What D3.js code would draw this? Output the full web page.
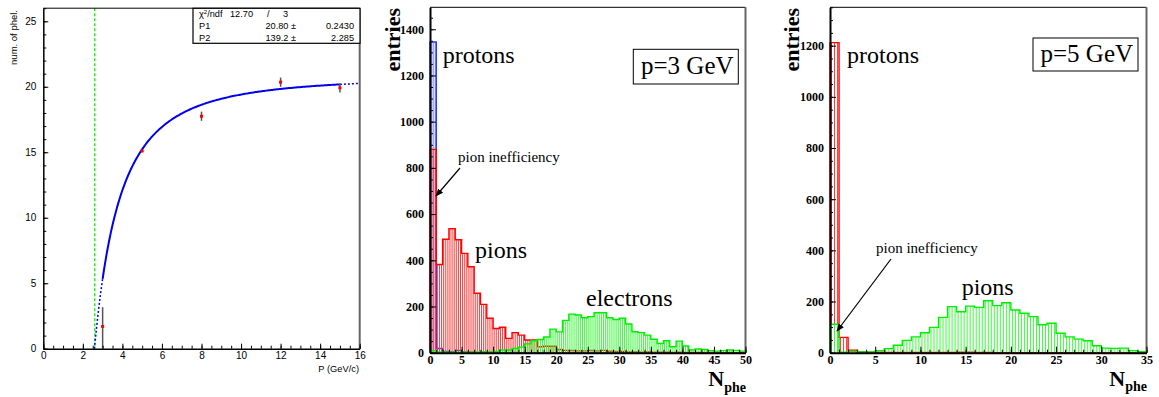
<!DOCTYPE html>
<html>
<head>
<meta charset="utf-8">
<script src="https://cdn.jsdelivr.net/npm/d3@7"></script>
<style>
  html, body { margin: 0; padding: 0; background: #fff; }
  svg { display: block; }
  .sans { font-family: "Liberation Sans", Arial, sans-serif; }
</style>
</head>
<body>
<svg id="chart" width="1159" height="397"></svg>
<script>
// ---------- Left panel: mean photoelectrons vs momentum ----------
const momentum = [3, 5, 8, 12, 15];
const meanPhel = [1.7, 15.1, 17.75, 20.35, 19.92];
const errUp    = [1.47, 0.1, 0.35, 0.35, 0.35];
const errDown  = [1.7, 0.1, 0.35, 0.35, 0.35];
const fitP1 = 20.80, fitP1Err = 0.2430;
const fitP2 = 139.2, fitP2Err = 2.285;
const chi2 = 12.70, ndf = 3;
const thresholdP = 2.6;
const leftXTicks = [0, 2, 4, 6, 8, 10, 12, 14, 16];
const leftYTicks = [0, 5, 10, 15, 20, 25];

// ---------- Middle panel: p = 3 GeV, bins of 1 photoelectron ----------
const protons3 = [1345, 18, 5, 4, 10, 3, 2, 1, 2, 1, 1, 1, 0, 1, 0, 0, 0, 0, 0, 0,
                  0, 0, 0, 0, 0, 0, 0, 0, 0, 0, 0, 0, 0, 0, 0, 0, 0, 0, 0, 0,
                  0, 0, 0, 0, 0, 0, 0, 0, 0, 0];
const pions3 = [880, 382, 491, 537, 489, 430, 372, 257, 209, 149, 105, 110, 62, 87, 76, 55,
                55, 26, 28, 28, 14, 10, 10, 8, 8, 10, 8, 10, 6, 5, 5, 3, 3, 2, 3, 2,
                2, 2, 1, 2, 1, 1, 1, 1, 1, 1, 0, 1, 0, 0];
const electrons3 = [8, 3, 2, 2, 2, 2, 2, 2, 3, 3, 5, 12, 12, 18, 24, 38, 52, 57, 68, 102,
                    90, 140, 167, 163, 151, 156, 173, 173, 151, 144, 149, 124, 91, 87, 76, 58,
                    40, 52, 26, 50, 29, 12, 16, 14, 9, 7, 9, 12, 10, 7];
const midXTicks = [0, 5, 10, 15, 20, 25, 30, 35, 40, 45, 50];
const midYTicks = [0, 200, 400, 600, 800, 1000, 1200, 1400];

// ---------- Right panel: p = 5 GeV ----------
const protons5 = [1212, 60, 10, 3, 2, 2, 1, 1, 1, 1, 1, 1, 1, 1, 2, 2, 1, 1, 0, 0,
                  0, 0, 0, 0, 0, 0, 0, 0, 0, 0, 0, 0, 0, 0, 0];
const pions5 = [111, 2, 5, 3, 3, 8, 16, 29, 48, 62, 78, 99, 138, 180, 160, 182, 177, 203, 184, 195,
                167, 154, 141, 109, 115, 76, 62, 53, 47, 27, 18, 17, 18, 8, 4];
const rightXTicks = [0, 5, 10, 15, 20, 25, 30, 35];
const rightYTicks = [0, 200, 400, 600, 800, 1000, 1200];

const SERIF = '"Liberation Serif", "Times New Roman", serif';
const SANS = '"Liberation Sans", Arial, sans-serif';

const svg = d3.select("#chart");
const defs = svg.append("defs");

defs.append("marker")
  .attr("id", "arrowhead")
  .attr("viewBox", "0 0 10 10")
  .attr("refX", 9).attr("refY", 5)
  .attr("markerWidth", 8).attr("markerHeight", 8)
  .attr("markerUnits", "userSpaceOnUse")
  .attr("orient", "auto")
  .append("path").attr("d", "M0,1 L10,5 L0,9 Z").attr("fill", "#000");

// histogram with vertical hatching inside each bin and a step outline
function drawHist(g, x, y, values, color, hatchColor) {
  const bins = g.append("g");
  values.forEach((v, i) => {
    if (v <= 0) return;
    const xa = x(i), w = x(i + 1) - x(i);
    for (let k = 0; k < 3; k++) {
      const xx = xa + w * (k + 0.5) / 3;
      bins.append("line")
        .attr("x1", xx).attr("x2", xx)
        .attr("y1", y(v)).attr("y2", y(0))
        .attr("stroke", hatchColor).attr("stroke-width", 1);
    }
  });
  const pts = [[x(0), y(0)]];
  values.forEach((v, i) => { pts.push([x(i), y(v)]); pts.push([x(i + 1), y(v)]); });
  pts.push([x(values.length), y(0)]);
  g.append("path")
    .attr("d", d3.line()(pts))
    .attr("fill", "none")
    .attr("stroke", color)
    .attr("stroke-width", 1.4);
}

function axes(g, x, y, cfg) {
  const [x0, x1] = x.range();
  const [yb, yt] = y.range();
  // frame: top black line, right grey line
  g.append("line").attr("x1", x0).attr("x2", x1).attr("y1", yt).attr("y2", yt)
    .attr("stroke", "#000").attr("stroke-width", 1);
  g.append("line").attr("x1", x1).attr("x2", x1).attr("y1", yt).attr("y2", yb)
    .attr("stroke", "#666").attr("stroke-width", 2);

  const xMinor = g.append("g").attr("transform", `translate(0,${yb})`)
    .call(d3.axisBottom(x).tickValues(cfg.xMinor).tickSize(-cfg.minorLen).tickFormat(""));
  const yMinor = g.append("g").attr("transform", `translate(${x0},0)`)
    .call(d3.axisLeft(y).tickValues(cfg.yMinor).tickSize(-cfg.minorLen).tickFormat(""));
  [xMinor, yMinor].forEach(a => a.select(".domain").remove());

  const xa = g.append("g").attr("transform", `translate(0,${yb})`)
    .call(d3.axisBottom(x).tickValues(cfg.xMajor).tickSize(-cfg.majorLen)
      .tickPadding(cfg.xPad).tickSizeOuter(0).tickFormat(d => String(d)));
  const ya = g.append("g").attr("transform", `translate(${x0},0)`)
    .call(d3.axisLeft(y).tickValues(cfg.yMajor).tickSize(-cfg.majorLen)
      .tickPadding(cfg.yPad).tickSizeOuter(0).tickFormat(d => String(d)));
  [xa, ya, xMinor, yMinor].forEach(a => {
    a.selectAll("line").attr("stroke", "#000").attr("stroke-width", 1);
  });
  [xa, ya].forEach(a => {
    a.attr("font-family", null).attr("font-size", null);
    a.select(".domain").attr("stroke", "#000").attr("stroke-width", cfg.axisWidth);
    a.selectAll("text")
      .attr("fill", "#000")
      .style("font-family", cfg.font)
      .style("font-size", cfg.fontSize + "px")
      .style("font-weight", cfg.fontWeight);
  });
}

// ================= Left panel =================
{
  const g = svg.append("g");
  const x = d3.scaleLinear([0, 16], [43.3, 359.7]);
  const y = d3.scaleLinear([0, 26], [348.7, 8.2]);

  // Cherenkov threshold
  g.append("line")
    .attr("x1", x(thresholdP)).attr("x2", x(thresholdP))
    .attr("y1", y(26)).attr("y2", y(0))
    .attr("stroke", "#22ee22").attr("stroke-width", 1.5).attr("stroke-dasharray", "3,2");

  // fit function N = P1 - P2 / p^2
  const fit = p => fitP1 - fitP2 / (p * p);
  const p0 = Math.sqrt(fitP2 / fitP1);
  const line = d3.line().x(d => x(d)).y(d => y(fit(d)));
  const seg = (a, b, n) => d3.range(n + 1).map(i => a + (b - a) * i / n);
  g.append("path").attr("d", line(seg(p0, momentum[0], 20)))
    .attr("fill", "none").attr("stroke", "#0000ee").attr("stroke-width", 1.5).attr("stroke-dasharray", "2,2");
  g.append("path").attr("d", line(seg(momentum[0], momentum[momentum.length - 1], 200)))
    .attr("fill", "none").attr("stroke", "#0000ee").attr("stroke-width", 2);
  g.append("path").attr("d", line(seg(momentum[momentum.length - 1], 16, 10)))
    .attr("fill", "none").attr("stroke", "#0000ee").attr("stroke-width", 1.5).attr("stroke-dasharray", "2,2");

  // measured points with error bars
  momentum.forEach((p, i) => {
    const lo = Math.max(0, meanPhel[i] - errDown[i]);
    g.append("line")
      .attr("x1", x(p)).attr("x2", x(p))
      .attr("y1", y(lo)).attr("y2", y(meanPhel[i] + errUp[i]))
      .attr("stroke", "#555").attr("stroke-width", 1.5);
    g.append("rect")
      .attr("x", x(p) - 1.5).attr("y", y(meanPhel[i]) - 1.5)
      .attr("width", 3).attr("height", 3).attr("fill", "#ff0000");
  });

  axes(g, x, y, {
    xMajor: leftXTicks, xMinor: d3.range(0, 16.01, 0.5),
    yMajor: leftYTicks, yMinor: d3.range(0, 26.01, 1),
    majorLen: 5, minorLen: 3, xPad: 3, yPad: 7, axisWidth: 1.5,
    font: SANS, fontSize: 10, fontWeight: "normal"
  });

  g.append("text").attr("class", "sans")
    .attr("x", 359).attr("y", 371.5).attr("text-anchor", "end")
    .attr("font-size", 9.3).text("P (GeV/c)");
  g.append("text").attr("class", "sans")
    .attr("transform", "translate(16.5,10) rotate(-90)")
    .attr("text-anchor", "end").attr("font-size", 9.5).text("num. of phel.");

  // fit statistics box
  const bx = 193, by = 8.3, bw = 167, bh = 35;
  g.append("rect").attr("x", bx).attr("y", by).attr("width", bw).attr("height", bh)
    .attr("fill", "#fff").attr("stroke", "#000").attr("stroke-width", 1.2);
  const st = g.append("g").attr("class", "sans").attr("font-size", 9.2).attr("fill", "#000");
  const r1 = st.append("text").attr("x", 199).attr("y", 17.3);
  r1.append("tspan").text("χ");
  r1.append("tspan").attr("font-size", 6).attr("dy", -3).text("2");
  r1.append("tspan").attr("dy", 3).text("/ndf");
  st.append("text").attr("x", 230).attr("y", 17.3).text(chi2.toFixed(2));
  st.append("text").attr("x", 267).attr("y", 17.3).text("/");
  st.append("text").attr("x", 283).attr("y", 17.3).text(ndf);
  st.append("text").attr("x", 199).attr("y", 29).text("P1");
  st.append("text").attr("x", 296).attr("y", 29).attr("text-anchor", "end").text(fitP1.toFixed(2) + " ±");
  st.append("text").attr("x", 354).attr("y", 29).attr("text-anchor", "end").text(fitP1Err.toFixed(4));
  st.append("text").attr("x", 199).attr("y", 41.3).text("P2");
  st.append("text").attr("x", 296).attr("y", 41.3).attr("text-anchor", "end").text(fitP2.toFixed(1) + " ±");
  st.append("text").attr("x", 354).attr("y", 41.3).attr("text-anchor", "end").text(fitP2Err.toFixed(3));
}

function nphe(g, xEnd, yBase) {
  const t = g.append("text").style("font-family", SERIF).style("font-weight", "bold")
    .attr("x", xEnd).attr("y", yBase).attr("text-anchor", "end").style("font-size", "22px");
  t.append("tspan").text("N");
  t.append("tspan").style("font-size", "14px").attr("dy", 5.5).text("phe");
}

function entries(g, xBase) {
  g.append("text").style("font-family", SERIF).style("font-weight", "bold")
    .attr("transform", `translate(${xBase},8) rotate(-90)`)
    .attr("text-anchor", "end").style("font-size", "22px").text("entries");
}

function arrow(g, x1, y1, x2, y2) {
  g.append("line").attr("x1", x1).attr("y1", y1).attr("x2", x2).attr("y2", y2)
    .attr("stroke", "#000").attr("stroke-width", 1.2).attr("marker-end", "url(#arrowhead)");
}

function label(g, x, y, size, str) {
  g.append("text").style("font-family", SERIF).attr("x", x).attr("y", y)
    .style("font-size", size + "px").attr("fill", "#000").text(str);
}

// ================= Middle panel =================
{
  const g = svg.append("g");
  const x = d3.scaleLinear([0, 50], [430, 745.5]);
  const y = d3.scaleLinear([0, 1495], [352.7, 7.3]);

  drawHist(g, x, y, protons3, "#2a3cff", "#6a78ff");
  drawHist(g, x, y, pions3, "#ff0000", "#ff3a3a");
  drawHist(g, x, y, electrons3, "#00ee00", "#3aff3a");

  axes(g, x, y, {
    xMajor: midXTicks, xMinor: d3.range(0, 50.01, 1),
    yMajor: midYTicks, yMinor: d3.range(0, 1451, 50),
    majorLen: 6, minorLen: 3, xPad: 2.5, yPad: 6, axisWidth: 2,
    font: SERIF, fontSize: 12, fontWeight: "bold"
  });

  entries(g, 399.5);
  nphe(g, 746, 386);

  label(g, 442.7, 63.3, 24, "protons");
  label(g, 475, 258, 24, "pions");
  label(g, 586, 306, 24, "electrons");
  label(g, 458, 161.7, 15, "pion inefficiency");
  arrow(g, 460, 168, 436, 196);

  g.append("rect").attr("x", 633.3).attr("y", 49.3).attr("width", 105).attr("height", 34.7)
    .attr("fill", "#fff").attr("stroke", "#000").attr("stroke-width", 1);
  label(g, 641, 74, 25, "p=3 GeV");
}

// ================= Right panel =================
{
  const g = svg.append("g");
  const x = d3.scaleLinear([0, 35], [830, 1146.5]);
  const y = d3.scaleLinear([0, 1350], [352.7, 7.3]);

  drawHist(g, x, y, protons5, "#ff0000", "#ff3a3a");
  drawHist(g, x, y, pions5, "#00ee00", "#3aff3a");

  axes(g, x, y, {
    xMajor: rightXTicks, xMinor: d3.range(0, 35.01, 1),
    yMajor: rightYTicks, yMinor: d3.range(0, 1351, 50),
    majorLen: 6, minorLen: 3, xPad: 2.5, yPad: 6, axisWidth: 2,
    font: SERIF, fontSize: 12, fontWeight: "bold"
  });

  entries(g, 799.3);
  nphe(g, 1147, 385.5);

  label(g, 847, 63, 24, "protons");
  label(g, 961.7, 295, 24, "pions");
  label(g, 876, 252.7, 15, "pion inefficiency");
  arrow(g, 891, 259, 837, 331);

  g.append("rect").attr("x", 1033).attr("y", 38).attr("width", 105).attr("height", 33)
    .attr("fill", "#fff").attr("stroke", "#000").attr("stroke-width", 1);
  label(g, 1040.5, 62, 25, "p=5 GeV");
}
</script>
</body>
</html>
